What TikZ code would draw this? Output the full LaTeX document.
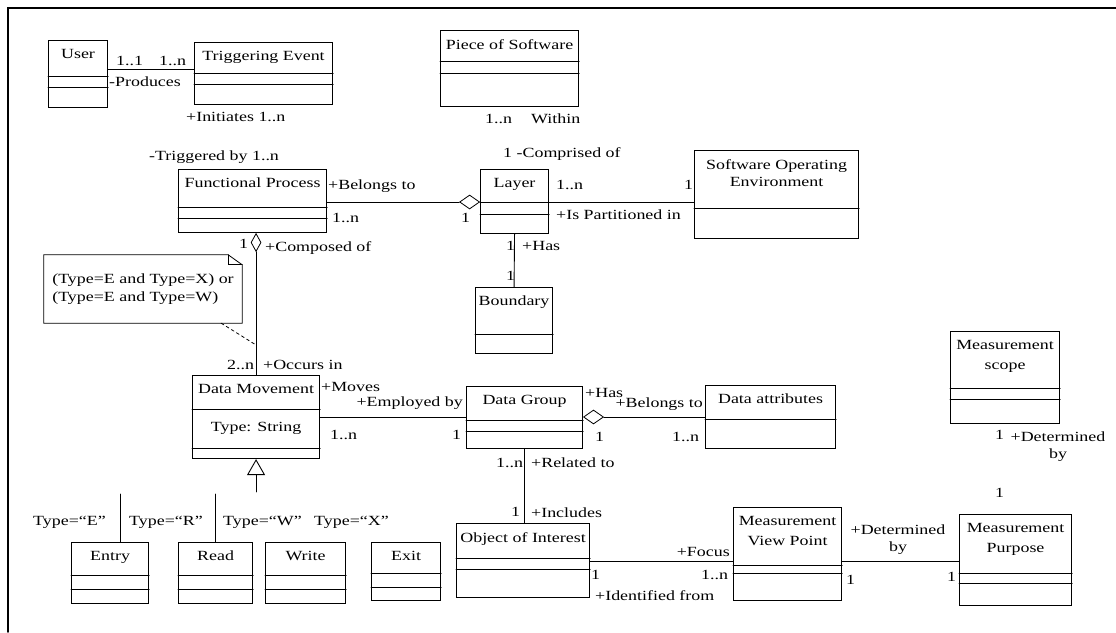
\documentclass[tikz,border=0pt]{standalone}
\usepackage{fontspec}
\setmainfont{Liberation Serif}[FakeStretch=1.28]
\usetikzlibrary{arrows.meta,shapes.geometric,calc}

% node name, x, y, width, height, compartment offsets, class name
\newcommand{\umlclass}[7]{%
  \node[classbox, minimum width=#4, minimum height=#5] (#1) at (#2,#3) {};
  \node[classname] (#1-name) at (#1.north) {#7};
  \foreach \off in {#6}
    \draw[compline] ($(#1.north west)+(0,\off)$) -- ($(#1.north east)+(0,\off)$);
}

\begin{document}
\begin{tikzpicture}[x=1pt, y=-1pt, line cap=round,
  font=\fontsize{14}{20}\selectfont,
  classbox/.style={draw, rectangle, line width=1.1pt, inner sep=0pt, anchor=north west},
  classname/.style={anchor=north, inner sep=0pt, yshift=-9pt, align=center},
  compline/.style={line width=0.9pt},
  assoc/.style={line width=0.9pt},
  aggdiamond/.style={diamond, draw, fill=white, line width=0.8pt, inner sep=0pt,
    minimum width=20pt, minimum height=14pt},
  lbl/.style={anchor=west, inner sep=1pt}]
  \useasboundingbox (0,0) rectangle (1116,632);
  \draw[line width=1.6pt] (8,632) -- (8,8) -- (1116,8);

  \umlclass{user}{48}{40}{59}{67}{36,47}{User}
  \umlclass{te}{194}{42}{138}{62}{31,42}{Triggering Event}
  \umlclass{pos}{440}{30}{138}{76}{31,43}{Piece of Software}
  \umlclass{fp}{178}{169}{148}{63}{38,49}{Functional Process}
  \umlclass{layer}{480}{169}{68}{64}{33,45}{Layer}
  \umlclass{soe}{694}{150}{164}{88}{58}{Software Operating\\[-3pt]Environment}
  \umlclass{boundary}{475}{287}{77}{66}{47}{Boundary}
  \umlclass{dm}{192}{375}{127}{83}{34,73}{Data Movement}
  \umlclass{dg}{466}{386}{116}{62}{34,45}{Data Group}
  \umlclass{da}{705}{385}{130}{63}{34}{Data attributes}
  \umlclass{ooi}{456}{523}{133}{74}{35,46}{Object of Interest}
  \umlclass{mvp}{733}{507}{108}{93}{58,66}{Measurement\\View Point}
  \umlclass{mp}{959}{514}{112}{91}{59,69}{Measurement\\Purpose}
  \umlclass{ms}{950}{331}{109}{92}{57,68}{Measurement\\scope}
  \umlclass{entry}{71}{542}{77}{61}{33,47}{Entry}
  \umlclass{read}{178}{542}{74}{61}{33,47}{Read}
  \umlclass{write}{265}{542}{80}{61}{33,47}{Write}
  \umlclass{exit}{371}{542}{69}{58}{31,45}{Exit}
  \node (dm-attr) at ($(dm.north)+(0,53)$) {Type: String};

  % constraint note
  \node[minimum width=198pt, minimum height=68pt, align=left, inner sep=0pt] (note) at (143,289)
    {(Type=E and Type=X) or\\[-2pt](Type=E and Type=W)};
  \draw[line width=0.8pt] (note.south west) -- (note.north west) -- ($(note.north east)+(-14,0)$)
    -- ($(note.north east)+(0,10)$) -- (note.south east) -- cycle;
  \draw[line width=0.8pt] ($(note.north east)+(-14,0)$) -- ($(note.north east)+(-14,10)$)
    -- ($(note.north east)+(0,10)$);

  % associations
  \draw[assoc] (user.east |- 0,69) -- (te.west |- 0,69);
  \node[aggdiamond, anchor=east] (agg-layer) at (layer.west |- 0,202) {};
  \draw[assoc] (fp.east |- agg-layer) -- (agg-layer.west);
  \draw[assoc] (layer.east |- 0,202) -- (soe.west |- 0,202);
  \draw[assoc] (layer.south) -- (boundary.north);
  \node[aggdiamond, anchor=north, minimum width=10pt, minimum height=18pt] (agg-fp) at (dm.north |- fp.south) {};
  \draw[assoc] (agg-fp.south) -- (dm.north);
  \coordinate (cons) at (dm.north |- 0,345);
  \draw[dashed, line width=0.8pt] ($(note.south east)+(-21,0)$) -- (cons);
  \draw[assoc] (dm.east |- 0,417) -- (dg.west |- 0,417);
  \node[aggdiamond, anchor=west] (agg-dg) at (dg.east |- 0,417) {};
  \draw[assoc] (agg-dg.east) -- (da.west |- agg-dg);
  \draw[assoc] (dg.south) -- (dg.south |- ooi.north);
  \draw[assoc] (ooi.east |- 0,561) -- (mvp.west |- 0,561);
  \draw[assoc] (mvp.east |- 0,561) -- (mp.west |- 0,561);

  % generalization
  \coordinate (gen) at (dm.south |- 0,492);
  \draw[assoc, -{Triangle[open, length=16pt, width=18pt]}] (gen) -- (dm.south);
  \draw[assoc] ($(entry.north)+(10,0)$) -- ++(0,-48);
  \draw[assoc] (read.north) -- ++(0,-48);

  \foreach \x/\y/\t [count=\i] in {
    115/61/1..1, 158/61/1..n, 108/82/-Produces, 185/117/+Initiates 1..n,
    484/119/1..n, 530/119/Within, 148/157/-Triggered by 1..n,
    327/186/+Belongs to, 331/218/1..n, 460/218/1, 502/154/1 -Comprised of,
    555/185/1..n, 683/185/1, 555/215/+Is Partitioned in,
    505/246/1, 521/246/+Has, 505/276/1, 238/244/1, 264/248/+Composed of,
    226/365/2..n, 262/365/+Occurs in, 320/387/+Moves,
    329/435/1..n, 451/435/1, 584/393/+Has,
    594/437/1, 671/437/1..n, 495/463/1..n, 530/463/+Related to,
    510/512/1, 530/513/+Includes, 590/575/1, 700/575/1..n,
    594/596/+Identified from, 845/580/1, 946/577/1, 994/435/1, 994/493/1,
    32/522/Type=``E'', 128/522/Type=``R'', 222/522/Type=``W'', 313/522/Type=``X''} {
    \node[lbl] (lbl-\i) at (\x,\y) {\t};
  }
  \node[lbl, anchor=east] (lbl-emp) at (464,403) {+Employed by};
  \node[lbl, anchor=east] (lbl-bel) at (704,404) {+Belongs to};
  \node[lbl, anchor=east] (lbl-foc) at (731,552) {+Focus};
  \node[align=center, inner sep=0pt] (det-mvp) at (898,540) {+Determined\\[-3pt]by};
  \node[align=center, inner sep=0pt] (det-ms) at (1058,447) {+Determined\\[-3pt]by};
\end{tikzpicture}
\end{document}
